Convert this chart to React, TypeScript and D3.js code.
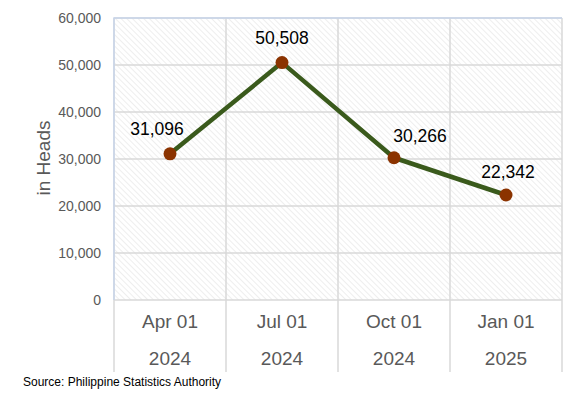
import React, { useEffect, useRef } from 'react';
import * as d3 from 'd3';

// Inventory by quarter
const quarters = ['Apr 01', 'Jul 01', 'Oct 01', 'Jan 01'];
const years = ['2024', '2024', '2024', '2025'];
const heads = [31096, 50508, 30266, 22342];
const yTicks = [0, 10000, 20000, 30000, 40000, 50000, 60000];
// label nudges (Excel labels were hand-placed)
const labelDx = [-13, 0, 26, 2];
const labelDy = [-19, -19, -16, -17];

const App: React.FC = () => {
    const ref = useRef<SVGSVGElement>(null);

    useEffect(() => {
        const svg = d3.select(ref.current);
        svg.selectAll('*').remove();

        const width = 572;
        const marginTop = 18;
        const marginLeft = 114;
        const marginRight = 10;
        const plotBottom = 300;
        const axisBottom = 372;

        const x = d3.scaleBand<number>()
            .domain(d3.range(quarters.length))
            .range([marginLeft, width - marginRight])
            .padding(0);

        const y = d3.scaleLinear()
            .domain([0, 60000])
            .range([plotBottom, marginTop]);

        // hatch pattern for the plot background
        const defs = svg.append('defs');
        const pat = defs.append('pattern')
            .attr('id', 'hatch')
            .attr('patternUnits', 'userSpaceOnUse')
            .attr('width', 4)
            .attr('height', 4)
            .attr('patternTransform', 'rotate(-45)');
        pat.append('rect').attr('width', 4).attr('height', 4).attr('fill', '#ffffff');
        pat.append('line')
            .attr('x1', 0).attr('y1', 0).attr('x2', 0).attr('y2', 4)
            .attr('stroke', '#e6e6e6')
            .attr('stroke-width', 1.3);

        svg.append('rect')
            .attr('x', marginLeft)
            .attr('y', marginTop)
            .attr('width', x.range()[1] - marginLeft)
            .attr('height', plotBottom - marginTop)
            .attr('fill', 'url(#hatch)');

        // horizontal gridlines
        svg.append('g')
            .selectAll('line')
            .data(yTicks)
            .join('line')
            .attr('x1', marginLeft)
            .attr('x2', x.range()[1])
            .attr('y1', d => y(d))
            .attr('y2', d => y(d))
            .attr('stroke', '#d9d9d9')
            .attr('stroke-width', 1.5);

        // vertical dividers, running down through the category labels
        const edges = d3.range(quarters.length + 1).map(i =>
            i < quarters.length ? x(i)! : x.range()[1]);
        svg.append('g')
            .selectAll('line')
            .data(edges)
            .join('line')
            .attr('x1', d => d)
            .attr('x2', d => d)
            .attr('y1', marginTop)
            .attr('y2', axisBottom)
            .attr('stroke', '#d9d9d9')
            .attr('stroke-width', 1.5);

        // light blue border on left/top of plot
        svg.append('path')
            .attr('d', `M${marginLeft},${plotBottom}V${marginTop}H${x.range()[1]}`)
            .attr('fill', 'none')
            .attr('stroke', '#c8d5ea')
            .attr('stroke-width', 1.5);

        // y tick labels
        svg.append('g')
            .selectAll('text')
            .data(yTicks)
            .join('text')
            .attr('x', 101)
            .attr('y', d => y(d))
            .attr('dy', '0.35em')
            .attr('text-anchor', 'end')
            .attr('fill', '#595959')
            .style('font', '14px Arial, "Liberation Sans", sans-serif')
            .text(d => d3.format(',')(d));

        // y title
        svg.append('text')
            .attr('transform', `translate(50,158) rotate(-90)`)
            .attr('text-anchor', 'middle')
            .attr('fill', '#595959')
            .style('font', '19px Arial, "Liberation Sans", sans-serif')
            .text('in Heads');

        // category labels (two rows)
        const cats = svg.append('g')
            .style('font', '19px Arial, "Liberation Sans", sans-serif')
            .attr('fill', '#595959')
            .attr('text-anchor', 'middle');
        cats.selectAll('text.q')
            .data(quarters)
            .join('text')
            .attr('class', 'q')
            .attr('x', (d, i) => x(i)! + x.bandwidth() / 2)
            .attr('y', 328)
            .text(d => d);
        cats.selectAll('text.yr')
            .data(years)
            .join('text')
            .attr('class', 'yr')
            .attr('x', (d, i) => x(i)! + x.bandwidth() / 2)
            .attr('y', 365)
            .text(d => d);

        // series line
        const line = d3.line<number>()
            .x((d, i) => x(i)! + x.bandwidth() / 2)
            .y(d => y(d));
        svg.append('path')
            .datum(heads)
            .attr('d', line)
            .attr('fill', 'none')
            .attr('stroke', '#3a5a1c')
            .attr('stroke-width', 4.5)
            .attr('stroke-linejoin', 'round');

        svg.append('g')
            .selectAll('circle')
            .data(heads)
            .join('circle')
            .attr('cx', (d, i) => x(i)! + x.bandwidth() / 2)
            .attr('cy', d => y(d))
            .attr('r', 6.5)
            .attr('fill', '#8b3300');

        // data labels
        svg.append('g')
            .selectAll('text')
            .data(heads)
            .join('text')
            .attr('x', (d, i) => x(i)! + x.bandwidth() / 2 + labelDx[i])
            .attr('y', (d, i) => y(d) + labelDy[i])
            .attr('text-anchor', 'middle')
            .attr('fill', '#000000')
            .style('font', '17.5px Arial, "Liberation Sans", sans-serif')
            .text(d => d3.format(',')(d));

        // source note
        svg.append('text')
            .attr('x', 23)
            .attr('y', 386)
            .attr('fill', '#000000')
            .style('font', '12px Arial, "Liberation Sans", sans-serif')
            .text('Source: Philippine Statistics Authority');
    }, []);

    return (
        <svg ref={ref} width={572} height={395}
            style={{ position: 'absolute', left: 0, top: 0, background: '#ffffff' }} />
    );
};

export default App;
